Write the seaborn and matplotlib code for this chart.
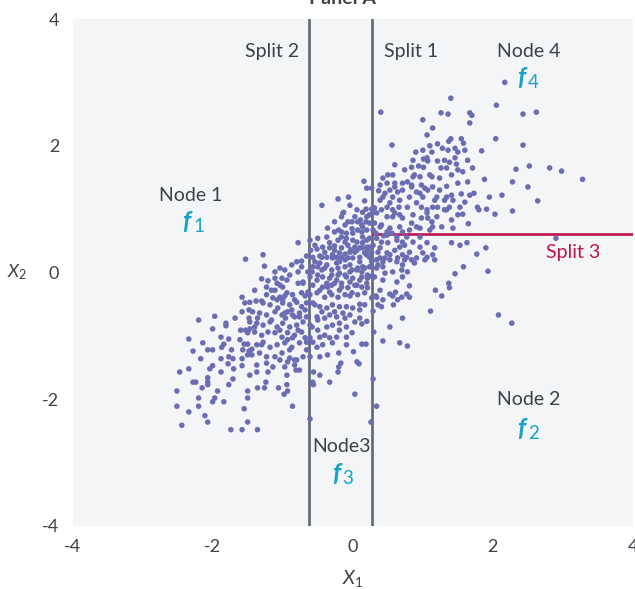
import matplotlib
matplotlib.use("Agg")
import matplotlib.pyplot as plt
import pandas as pd
import seaborn as sns

# ---------------- data (in data units) ----------------
upper_right_sparse = [
    (2.17, 3.00), (1.40, 2.75), (0.40, 2.53), (2.05, 2.64), (2.43, 2.50), (2.62, 2.53), (1.26, 2.52),
    (1.36, 2.50), (1.67, 2.52), (1.70, 2.48), (1.00, 2.41), (1.67, 2.36), (1.14, 2.28), (1.06, 2.17),
    (2.04, 2.11), (2.43, 2.01), (0.56, 2.01), (1.37, 2.07), (1.40, 2.11), (1.55, 2.11), (1.58, 2.04),
    (1.84, 1.92), (0.90, 1.90), (1.00, 1.93), (1.10, 2.00), (1.21, 2.03), (1.46, 1.96), (1.50, 1.90),
    (1.71, 1.65), (2.33, 1.63), (2.52, 1.68), (2.81, 1.65), (2.98, 1.60), (3.28, 1.47), (1.88, 1.47),
    (2.28, 1.43), (2.50, 1.35), (1.73, 1.25), (2.13, 1.22), (1.95, 1.19), (2.64, 1.13), (2.28, 0.97),
    (2.03, 0.92), (1.91, 1.00), (1.78, 1.03), (1.80, 0.99), (1.65, 0.77), (2.90, 0.54), (1.90, 0.39),
    (1.77, 0.29),
]
upper_right_cluster = [
    (0.86, 1.77), (0.84, 1.66), (0.94, 1.68), (1.01, 1.66), (1.01, 1.79), (1.07, 1.76), (1.21, 1.76),
    (1.31, 1.77), (1.38, 1.74), (1.48, 1.71), (1.50, 1.62), (1.57, 1.59), (1.34, 1.65), (1.26, 1.65),
    (1.10, 1.54), (1.24, 1.49), (0.96, 1.51), (0.86, 1.51), (0.78, 1.43), (0.71, 1.41), (0.84, 1.35),
    (1.03, 1.33), (1.14, 1.35), (1.34, 1.36), (1.50, 1.41), (1.55, 1.24), (1.41, 1.22), (1.43, 1.14),
    (1.38, 1.03), (1.53, 1.03), (1.57, 0.92), (1.60, 1.11), (0.50, 1.54), (0.43, 1.49), (0.37, 1.29),
    (0.46, 1.25), (0.57, 1.19), (0.64, 1.27), (0.81, 1.19), (1.00, 1.19), (1.17, 1.14), (1.21, 1.03),
    (0.98, 1.03), (0.66, 1.03), (0.57, 0.99), (0.49, 1.03), (0.41, 0.99), (0.29, 0.95), (0.67, 0.91),
    (0.86, 0.91), (1.06, 0.94), (1.20, 0.88), (1.41, 0.83), (1.43, 0.70), (1.27, 0.72), (0.41, 0.75),
    (0.31, 0.78), (0.49, 0.64), (0.71, 0.64), (1.36, 1.93), (1.06, 1.81), (1.13, 1.51), (0.98, 1.38),
    (1.24, 1.30), (0.91, 1.27), (1.34, 1.19), (0.53, 1.30), (0.60, 1.41), (0.57, 1.54), (0.43, 1.19),
    (1.34, 0.99), (0.31, 1.02), (0.57, 0.88), (1.07, 0.86), (1.14, 0.72), (0.91, 0.72), (0.29, 0.67),
    (0.49, 0.59), (0.63, 0.56), (0.77, 0.56), (0.96, 0.56), (0.27, 1.00), (0.20, 0.88), (0.39, 1.38),
    (0.49, 1.41), (0.60, 1.35), (0.71, 1.30), (0.84, 1.38), (0.96, 1.25), (1.07, 1.30), (1.20, 1.19),
    (0.39, 1.14), (0.53, 1.10), (0.67, 1.14), (0.78, 1.03), (0.91, 1.10), (1.06, 0.99), (1.14, 1.03),
    (0.34, 0.94), (0.49, 0.88), (0.60, 0.94), (0.71, 0.86), (0.84, 0.78), (0.98, 0.86), (1.13, 0.80),
    (0.39, 0.72), (0.53, 0.70), (0.67, 0.72), (0.81, 0.67), (0.96, 0.70), (1.10, 0.67),
    (0.74, 1.62), (0.60, 1.70), (0.88, 1.54), (1.13, 1.90), (1.28, 1.96), (1.46, 1.81), (1.60, 1.93),
    (1.64, 1.77), (1.41, 1.54), (1.64, 1.43), (1.67, 1.22), (1.31, 1.14), (1.50, 0.91), (1.31, 0.99),
]
middle_right = [
    (0.34, 0.54), (0.41, 0.48), (0.50, 0.47), (0.63, 0.51), (0.74, 0.43), (0.86, 0.48), (0.96, 0.40),
    (1.06, 0.47), (1.17, 0.39), (0.36, 0.32), (0.49, 0.31), (0.60, 0.35), (0.71, 0.28), (0.81, 0.32),
    (0.91, 0.23), (1.00, 0.31), (1.14, 0.28), (1.41, 0.47), (1.53, 0.43), (1.63, 0.47), (0.77, 0.24),
    (1.06, 0.24), (0.14, 0.56), (0.71, 0.48), (0.20, 0.40), (0.29, 0.43), (0.39, 0.39), (0.67, 0.40),
    (0.46, 0.23), (0.14, 0.09), (0.43, 0.09), (0.71, -0.07), (0.36, 0.12), (0.43, 0.17), (0.53, 0.20),
    (0.63, 0.17), (0.74, 0.20), (0.84, 0.20), (0.88, 0.15), (1.03, 0.20), (1.17, 0.20), (0.34, 0.07),
    (0.46, -0.01), (0.57, 0.01), (0.70, 0.04), (0.78, 0.01), (0.31, -0.07), (0.43, -0.12), (0.63, -0.15),
    (0.39, -0.28), (0.34, -0.39), (0.33, 0.62), (0.44, 0.58), (0.56, 0.62), (0.39, 0.23), (0.53, 0.28),
    (0.64, 0.23), (0.71, 0.12), (0.34, 0.20),
]
lower_right = [
    (1.93, 0.02), (1.58, 0.09), (1.46, -0.02), (1.37, -0.17), (1.38, -0.24), (1.27, -0.37), (1.18, -0.28),
    (1.11, -0.61), (2.08, -0.67), (2.27, -0.80), (0.71, -0.72), (0.53, -0.86), (0.43, -1.08), (0.67, -1.11),
    (0.78, -1.16), (0.81, -0.21), (0.81, -0.39), (0.77, -0.34), (0.70, -0.39), (0.64, -0.43), (0.57, -0.37),
    (0.53, -0.34), (0.61, -0.31), (0.58, -0.51), (0.41, -0.54), (0.36, -0.51), (0.43, -0.43), (0.33, -0.37),
    (0.29, -0.61), (0.30, -0.94), (0.29, -1.68), (0.34, -2.11), (0.26, -2.36), (0.20, -0.77), (0.13, -0.81),
    (0.13, -1.13), (0.19, -1.13),
]
lower_middle = [
    (-0.94, -1.62), (-0.81, -1.54), (-0.94, -1.77), (-1.06, -1.82), (-0.93, -1.87), (-0.98, -1.92),
    (-0.86, -2.11), (-0.61, -2.31), (-0.56, -1.57), (-0.57, -1.73), (-0.56, -1.77), (-0.47, -1.62),
    (-0.33, -1.73), (-0.21, -1.57), (0.03, -1.92), (-0.20, -1.49), (-0.17, -1.43), (0.06, -1.41),
    (0.09, -1.44), (0.01, -1.25), (-1.01, -1.27), (-0.90, -1.22), (-0.83, -1.38), (-0.97, -1.49),
    (-0.93, -1.41), (-0.66, -1.22), (-0.51, -1.18), (-0.43, -1.14), (-0.29, -1.11), (-0.09, -1.14),
    (-0.61, -1.33), (-0.47, -1.33), (-0.36, -1.30), (-0.20, -1.27), (-1.04, -1.38), (-0.76, -1.54),
]
lower_left_sparse = [
    (-1.53, 0.21), (-1.28, 0.28), (-1.26, 0.10), (-1.11, 0.01), (-2.20, -0.75), (-1.97, -0.69),
    (-2.00, -0.89), (-2.34, -1.05), (-2.28, -1.24), (-2.17, -1.36), (-2.47, -1.57), (-2.34, -1.52),
    (-2.28, -1.73), (-2.24, -1.73), (-2.15, -1.82), (-2.51, -1.87), (-2.51, -2.11), (-2.34, -2.20),
    (-2.44, -2.41), (-2.20, -1.98), (-2.20, -2.11), (-2.11, -2.26), (-2.07, -2.36), (-2.07, -1.66),
    (-2.07, -1.73), (-2.07, -1.77), (-2.00, -2.04), (-1.97, -1.98), (-1.93, -1.87), (-1.84, -2.04),
    (-2.04, -1.52), (-2.00, -1.47), (-1.88, -1.36), (-1.88, -1.57), (-1.88, -1.02), (-1.77, -1.05),
    (-1.84, -1.13), (-1.81, -0.80), (-1.81, -0.84), (-1.77, -1.33), (-1.71, -1.36), (-1.78, -1.44),
    (-1.70, -1.52), (-1.58, -1.36), (-1.58, -1.47), (-1.71, -1.68), (-1.77, -1.77), (-1.74, -2.48),
    (-1.58, -2.48), (-1.36, -2.48), (-1.50, -2.36), (-1.55, -2.15), (-1.50, -1.98), (-1.50, -1.87),
    (-1.36, -1.82), (-1.26, -1.82), (-1.24, -1.73), (-1.47, -1.62), (-1.37, -1.57), (-1.58, -0.39),
    (-1.54, -0.48), (-1.47, -0.47), (-1.38, -0.45), (-1.30, -0.45), (-1.60, -0.91), (-1.53, -0.91),
    (-1.47, -0.89), (-1.40, -0.86), (-1.55, -1.13), (-1.50, -1.13), (-1.48, -1.24), (-1.44, -1.21),
    (-1.50, -1.30), (-1.58, -0.62), (-1.48, -0.72), (-1.48, -0.59), (-1.61, -1.06), (-1.68, -0.72),
    (-1.73, -1.22), (-1.21, -1.57),
]
lower_left_dense = [
    (-1.30, -0.10), (-1.21, -0.13), (-1.11, -0.09), (-1.01, -0.09), (-1.04, -0.20), (-1.23, -0.23),
    (-1.11, -0.28), (-1.23, -0.35), (-1.14, -0.40), (-1.04, -0.39), (-0.94, -0.32), (-0.86, -0.35),
    (-0.78, -0.17), (-0.71, -0.15), (-1.28, -0.48), (-1.18, -0.51), (-1.08, -0.43), (-1.00, -0.48),
    (-0.90, -0.51), (-0.80, -0.47), (-0.73, -0.54), (-0.66, -0.48), (-1.43, -0.62), (-1.33, -0.64),
    (-1.23, -0.67), (-1.11, -0.62), (-1.01, -0.67), (-0.93, -0.62), (-0.83, -0.70), (-0.76, -0.64),
    (-0.66, -0.70), (-1.47, -0.78), (-1.37, -0.80), (-1.28, -0.83), (-1.18, -0.78), (-1.08, -0.86),
    (-1.00, -0.80), (-0.90, -0.86), (-0.80, -0.83), (-0.71, -0.78), (-1.50, -0.95), (-1.40, -0.94),
    (-1.30, -0.99), (-1.21, -0.94), (-1.11, -0.95), (-1.01, -1.02), (-0.93, -0.95), (-0.83, -0.99),
    (-0.73, -0.94), (-1.37, -1.14), (-1.28, -1.10), (-1.18, -1.18), (-1.08, -1.14), (-0.97, -1.11),
    (-0.87, -1.18), (-0.76, -1.11), (-0.66, -1.10), (-1.57, -1.22), (-1.44, -1.30), (-1.33, -1.27),
    (-1.23, -1.33), (-1.11, -1.33), (-0.90, -1.35), (-0.80, -1.38), (-0.71, -1.33), (-1.37, -1.46),
    (-1.23, -1.43), (-1.14, -1.49), (-0.83, -1.46), (-2.00, -1.22), (-1.87, -1.18), (-2.14, -1.11),
    (-2.07, -1.22), (-0.87, 0.12), (-0.97, 0.04), (-0.90, -0.04), (-1.04, 0.07), (-1.08, -0.17),
    (-1.00, -0.23), (-0.94, -0.12), (-1.00, -0.43), (-1.16, -0.28), (-0.97, -0.37), (-0.83, -0.43),
    (-0.68, -0.37), (-1.07, -0.56), (-0.87, -0.59), (-0.68, -0.59), (-1.16, -0.75), (-0.96, -0.72),
    (-0.78, -0.91), (-0.61, -0.83), (-1.04, -0.91), (-0.86, -1.03), (-0.61, -1.03), (-1.40, -0.28),
    (-1.36, -0.72), (-1.30, -1.14),
]
centre = [
    (0.16, 1.44), (0.20, 1.33), (0.27, 1.33), (-0.06, 1.19), (-0.21, 1.16), (-0.44, 1.06), (-0.78, 0.47),
    (-0.66, 0.26), (-0.60, 0.35), (-0.51, 0.37), (-0.80, 0.17), (-0.73, 0.18), (-0.78, 0.01), (-0.73, 0.09),
    (-0.37, 0.56), (-0.26, 0.80), (-0.14, 0.94), (-0.16, 0.88), (-0.43, 0.40), (-0.33, 0.47), (-0.21, 0.51),
    (-0.09, 0.54), (0.00, 0.62), (0.07, 0.67), (0.14, 0.72), (0.24, 0.78), (-0.37, 0.24), (-0.29, 0.28),
    (-0.19, 0.31), (-0.04, 0.32), (0.06, 0.35), (0.14, 0.39), (0.24, 0.40), (-0.57, 0.09), (-0.47, 0.15),
    (-0.37, 0.12), (-0.23, 0.15), (-0.11, 0.20), (0.00, 0.23), (0.10, 0.24), (0.20, 0.28), (-0.61, -0.07),
    (-0.50, -0.04), (-0.43, -0.07), (-0.30, -0.04), (-0.19, -0.01), (-0.04, 0.01), (0.06, 0.04),
    (0.17, 0.07), (0.27, 0.09), (-0.71, -0.17), (-0.57, -0.20), (-0.43, -0.23), (-0.30, -0.20),
    (-0.16, -0.17), (-0.04, -0.15), (0.10, -0.12), (0.21, -0.09), (0.17, 1.13), (-0.13, 0.95),
    (-0.01, 0.80), (0.07, 0.80), (0.11, 0.83), (0.19, 0.80), (0.14, 0.95), (0.19, 1.00), (-0.20, 0.67),
    (-0.16, 0.64), (-0.09, 0.62), (-0.01, 0.69), (0.13, 0.64), (0.20, 0.67), (-0.33, 0.39), (-0.26, 0.35),
    (-0.16, 0.39), (-0.03, 0.36), (0.03, 0.32), (0.10, 0.39), (0.21, 0.35), (0.27, 0.31), (0.00, 0.51),
    (0.06, 0.48), (0.14, 0.47), (0.20, 0.51), (0.24, 0.54), (-0.11, 0.48), (-0.07, 0.43), (-0.44, 0.24),
    (-0.29, 0.23), (-0.23, 0.24), (-0.16, 0.24), (-0.07, 0.23), (0.24, 0.24), (-0.57, 0.24), (-0.54, 0.17),
    (-0.50, 0.09), (-0.40, 0.07), (-0.30, 0.04), (-0.21, 0.07), (-0.11, 0.09), (-0.01, 0.04), (0.07, 0.07),
    (0.24, 0.09), (0.21, -0.04), (-0.64, 0.01), (-0.33, -0.09), (-0.21, -0.04), (-0.09, -0.07),
    (0.00, -0.09), (0.13, -0.07), (-0.36, -0.23), (-0.26, -0.17), (-0.16, -0.23), (-0.07, -0.24),
    (0.03, -0.20), (0.13, -0.23), (0.21, -0.24), (-0.73, -0.32), (-0.61, -0.35), (-0.51, -0.32),
    (-0.40, -0.39), (-0.30, -0.35), (-0.21, -0.39), (-0.11, -0.35), (-0.01, -0.32), (0.07, -0.35),
    (-0.57, -0.48), (-0.47, -0.54), (-0.37, -0.56), (-0.29, -0.51), (-0.19, -0.54), (-0.09, -0.54),
    (0.00, -0.56), (0.10, -0.50), (-0.97, -0.64), (-0.86, -0.67), (-0.76, -0.70), (-0.51, -0.70),
    (-0.44, -0.62), (-0.33, -0.67), (-0.23, -0.70), (-0.14, -0.64), (-0.04, -0.67), (0.10, -0.72),
    (-0.58, -0.86), (-0.50, -0.91), (-0.37, -0.86), (-0.29, -0.83), (-0.19, -0.80), (-0.09, -0.86),
    (-0.01, -0.95), (-0.93, -1.06), (-0.68, -1.03), (-0.57, -1.10), (-0.47, -1.02), (-0.33, -1.03),
    (-0.23, -1.02), (-0.09, -1.02), (-0.07, 0.80), (-0.16, 0.56),
    (-0.54, 0.43), (-0.40, 0.32), (-0.26, 0.42), (-0.11, 0.29), (0.03, 0.40), (0.17, 0.31), (-0.47, 0.26),
    (-0.19, 0.17), (-0.04, 0.12), (0.10, 0.17), (0.27, 0.17), (-0.58, 0.01), (-0.44, 0.04), (-0.11, -0.04),
    (0.13, 0.01), (0.27, -0.06), (-0.51, -0.12), (-0.37, -0.17), (-0.23, -0.12), (0.06, -0.20),
    (0.20, -0.17), (-0.64, -0.31), (-0.47, -0.28), (-0.33, -0.31), (-0.19, -0.28), (-0.04, -0.37),
    (0.17, -0.32), (0.27, -0.40), (-0.04, 1.06), (0.06, 0.99), (0.03, 0.88), (0.13, 0.75), (0.24, 0.91),
    (-0.11, 0.75), (-0.26, 0.64), (-0.36, 0.70), (-0.50, 0.54), (-0.61, 0.51), (-0.50, -0.75),
    (-0.40, -0.99), (-0.19, -0.91), (0.03, -0.78), (-0.11, -0.72), (-0.40, -0.72), (-0.26, -0.62),
    (-0.54, -0.51), (0.10, -0.59), (0.17, -0.51),
]

split1_x = 0.28    # vertical split at X1
split2_x = -0.63   # vertical split at X1
split3_y = 0.61    # horizontal split at X2 (right of split 1)
axis_ticks = [-4, -2, 0, 2, 4]
axis_limits = (-4, 4)

node_labels = ["Node 1", "Node 2", "Node3", "Node 4"]
node_pos = [(-2.31, 1.22), (2.51, -2.01), (-0.16, -2.74), (2.51, 3.48)]
leaf_subs = ["1", "2", "3", "4"]
leaf_pos = [(-2.37, 0.69), (2.41, -2.58), (-0.24, -3.29), (2.41, 2.96)]

# ---------------- build frame ----------------
groups = [upper_right_sparse, upper_right_cluster, middle_right, lower_right,
          lower_middle, lower_left_sparse, lower_left_dense, centre]
pts = [p for g in groups for p in g]
df = pd.DataFrame(pts, columns=["x1", "x2"])

# ---------------- style ----------------
sns.set_style("white")
plt.rcParams["font.family"] = ["Lato", "DejaVu Sans"]
plt.rcParams["axes.unicode_minus"] = False
plt.rcParams["mathtext.fontset"] = "custom"
plt.rcParams["mathtext.rm"] = "Lato"
plt.rcParams["mathtext.it"] = "Lato:italic"

txt_col = "#3d4248"
dot_col = "#6b6db3"
line_col = "#5e6a72"
red_col = "#c0134f"
cyan_col = "#17a3c9"

fig = plt.figure(figsize=(6.35, 5.89), dpi=100)
fig.patch.set_facecolor("white")
ax = fig.add_axes([72.5 / 635, 1 - 526 / 589, (633 - 72.5) / 635, (526 - 19) / 589])
ax.set_facecolor("#f3f5f7")

ax.axvline(split2_x, color=line_col, lw=1.9, zorder=1.5)
ax.axvline(split1_x, color=line_col, lw=1.9, zorder=1.5)
ax.hlines(split3_y, split1_x, axis_limits[1], color=red_col, lw=1.9, zorder=1.5)

sns.scatterplot(data=df, x="x1", y="x2", ax=ax, s=16, color=dot_col,
                edgecolor="none", linewidth=0, legend=False, zorder=2)

ax.set_xlim(*axis_limits)
ax.set_ylim(*axis_limits)
ax.set_xticks(axis_ticks)
ax.set_yticks(axis_ticks)
ax.set_xticklabels([str(t) for t in axis_ticks])
ax.set_yticklabels([str(t) for t in axis_ticks])
ax.tick_params(axis="both", length=0, labelsize=13, colors=txt_col)
ax.tick_params(axis="x", pad=9)
ax.tick_params(axis="y", pad=9.5)
for sp in ax.spines.values():
    sp.set_visible(False)

ax.set_xlabel(r"$X_1$", fontsize=14, color=txt_col)
ax.xaxis.set_label_coords(0.5, -0.103)
ax.xaxis.label.set_va("center")
ax.set_ylabel(r"$X_2$", fontsize=13, color=txt_col, rotation=0)
ax.yaxis.set_label_coords(-0.099, 0.5)
ax.yaxis.label.set_va("center")
ax.yaxis.label.set_ha("center")

# split labels
ax.text(split2_x - 0.13, 3.48, "Split 2", ha="right", va="center", fontsize=14, color=txt_col)
ax.text(split1_x + 0.16, 3.48, "Split 1", ha="left", va="center", fontsize=14, color=txt_col)
ax.text(3.15, 0.31, "Split 3", ha="center", va="center", fontsize=14, color=red_col)

for lab, (nx, ny) in zip(node_labels, node_pos):
    ax.text(nx, ny, lab, ha="center", va="center", fontsize=14, color=txt_col)

for sub, (fx, fy) in zip(leaf_subs, leaf_pos):
    ax.text(fx, fy, "f", ha="center", va="baseline", fontsize=18, color=cyan_col,
            fontweight="bold", fontstyle="italic")
    ax.annotate(sub, xy=(fx, fy), xytext=(4.5, -2.4), textcoords="offset points",
                ha="left", va="baseline", fontsize=13.5, color=cyan_col)

fig.text(0.540, 0.994, "Panel A", ha="center", va="baseline", fontsize=14,
         fontweight="bold", color=txt_col)

fig.savefig("out.png", dpi=100)
